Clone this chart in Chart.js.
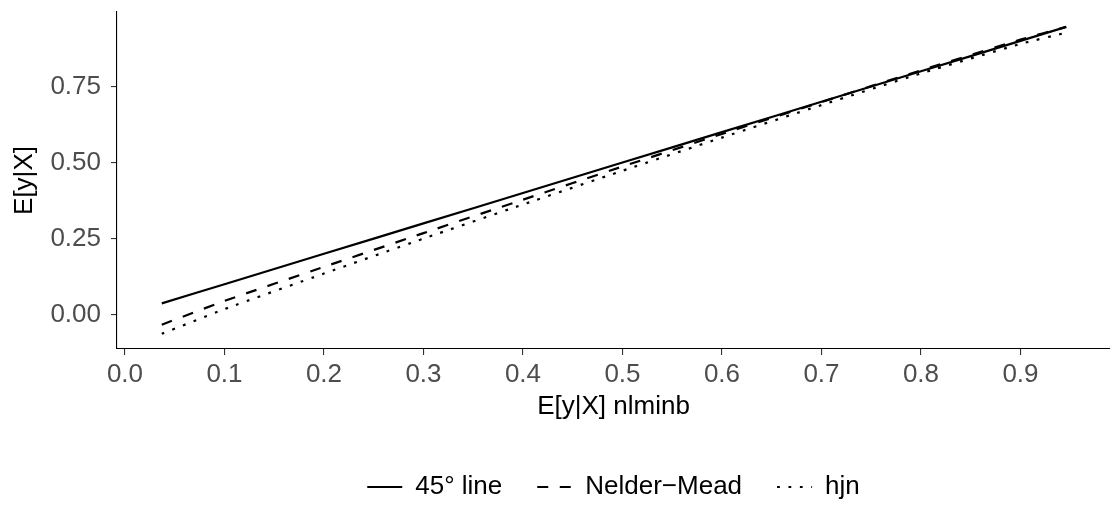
<!DOCTYPE html>
<html>
<head>
<meta charset="utf-8">
<script src="https://cdn.jsdelivr.net/npm/chart.js@4.4.1/dist/chart.umd.min.js"></script>
<style>
  html, body { margin: 0; padding: 0; background: #fff; }
  #wrap { width: 1113px; height: 522px; }
</style>
</head>
<body>
<div id="wrap"><canvas id="chart" width="1113" height="522"></canvas></div>
<script>
// values
const xVals      = [0.037, 0.1, 0.2, 0.3, 0.4, 0.5, 0.6, 0.7, 0.8, 0.9, 0.946];
const line45     = [0.037, 0.1, 0.2, 0.3, 0.4, 0.5, 0.6, 0.7, 0.8, 0.9, 0.946];
const nelderMead = [-0.033, 0.045, 0.157, 0.268, 0.378, 0.487, 0.594, 0.699, 0.803, 0.904, 0.946];
const hjn        = [-0.063, 0.018, 0.135, 0.250, 0.362, 0.473, 0.582, 0.689, 0.793, 0.890, 0.927];
const seriesNames = ['45° line', 'Nelder−Mead', 'hjn'];
const xTicks = [0, 0.1, 0.2, 0.3, 0.4, 0.5, 0.6, 0.7, 0.8, 0.9];
const yTicks = [0, 0.25, 0.5, 0.75];

const FONT = "'Liberation Sans', Arial, sans-serif";
const FS = 26;
const LEG_PAD = 35;

function toPoints(ys) {
    return xVals.map((x, i) => ({ x: x, y: ys[i] }));
}

function makeSet(label, ys, dash) {
    return {
        label: label,
        data: toPoints(ys),
        borderColor: '#000',
        backgroundColor: '#000',
        borderWidth: 2.2,
        borderDash: dash,
        borderCapStyle: 'butt',
        pointRadius: 0,
        pointStyle: 'line',
        tension: 0.2,
        fill: false
    };
}

// put the legend under the panel, like ggplot does
const legendPlace = {
    id: 'legendPlace',
    afterLayout(chart) {
        const lg = chart.legend;
        const h = lg.bottom - lg.top;
        const top = 487 - LEG_PAD - FS / 2;
        lg.left = chart.chartArea.left;
        lg.right = chart.chartArea.right;
        lg.top = top;
        lg.bottom = top + h;
    }
};

function noEdgePad(axis) {
    axis.paddingTop = 0;
    axis.paddingBottom = 0;
    axis.paddingLeft = 0;
    axis.paddingRight = 0;
}

new Chart(document.getElementById('chart').getContext('2d'), {
    type: 'line',
    data: {
        datasets: [
            makeSet(seriesNames[0], line45, []),
            makeSet(seriesNames[1], nelderMead, [11, 11.5]),
            makeSet(seriesNames[2], hjn, [2.8, 8.6])
        ]
    },
    plugins: [legendPlace],
    options: {
        responsive: false,
        animation: false,
        layout: { padding: { left: 0, right: 3, top: 12, bottom: 10 } },
        plugins: {
            tooltip: { enabled: false },
            legend: {
                position: 'bottom',
                labels: {
                    usePointStyle: true,
                    pointStyleWidth: 35,
                    boxHeight: FS,
                    color: '#000',
                    padding: LEG_PAD,
                    font: { family: FONT, size: FS },
                    generateLabels: chart => {
                        const items = Chart.defaults.plugins.legend.labels.generateLabels(chart);
                        items.forEach((it, i) => {
                            const ds = chart.data.datasets[i];
                            it.lineDash = ds.borderDash;
                            it.lineWidth = ds.borderWidth;
                            it.strokeStyle = ds.borderColor;
                            it.lineCap = 'butt';
                            it.pointStyle = 'line';
                        });
                        return items;
                    }
                }
            }
        },
        scales: {
            x: {
                type: 'linear',
                min: -0.008,
                max: 0.99,
                afterBuildTicks: axis => { axis.ticks = xTicks.map(v => ({ value: v })); },
                afterFit: axis => { axis.height = 92; noEdgePad(axis); },
                ticks: {
                    color: '#4d4d4d',
                    font: { family: FONT, size: FS },
                    padding: 4,
                    maxRotation: 0,
                    callback: v => v.toFixed(1)
                },
                grid: { drawOnChartArea: false, drawTicks: true, tickLength: 6, color: '#333', lineWidth: 1.1 },
                border: { display: true, color: '#000', width: 1.1 },
                title: {
                    display: true,
                    text: 'E[y|X] nlminb',
                    color: '#000',
                    font: { family: FONT, size: FS },
                    padding: { top: 0, bottom: 19 }
                }
            },
            y: {
                type: 'linear',
                min: -0.113,
                max: 0.995,
                afterBuildTicks: axis => { axis.ticks = yTicks.map(v => ({ value: v })); },
                afterFit: axis => { axis.width = 117; noEdgePad(axis); },
                ticks: {
                    color: '#4d4d4d',
                    font: { family: FONT, size: FS },
                    padding: 10,
                    callback: v => v.toFixed(2)
                },
                grid: { drawOnChartArea: false, drawTicks: true, tickLength: 6, color: '#333', lineWidth: 1.1 },
                border: { display: true, color: '#000', width: 1.1 },
                title: {
                    display: true,
                    text: 'E[y|X]',
                    color: '#000',
                    font: { family: FONT, size: FS },
                    padding: { top: 9, bottom: 0 }
                }
            }
        }
    }
});
</script>
</body>
</html>
